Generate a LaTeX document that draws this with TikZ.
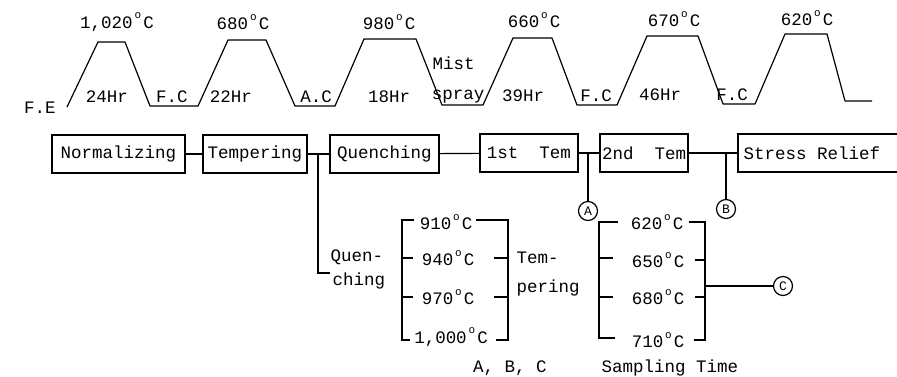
\documentclass[tikz,border=0pt]{standalone}
\usepackage{fontspec}
\setmonofont{Liberation Mono}
\newcommand\myDeg{\makebox[0.6em]{\raisebox{0.55em}{\fontsize{11}{11}\selectfont o}}}
\tikzset{
  lbl/.style={inner sep=0pt},
  procbox/.style={draw, minimum height=38pt, inner sep=0pt},
  circ/.style={draw, circle, inner sep=0pt, minimum size=19pt, font=\ttfamily\fontsize{13}{13}\selectfont},
}
\begin{document}
\begin{tikzpicture}[x=1pt,y=-1pt,line width=1.2pt,font=\ttfamily\fontsize{17.5}{20}\selectfont]
\useasboundingbox (0,0) rectangle (897,376);
% heat-treatment profile
\draw[line join=round] (67,107) -- (98,42) -- (125,42) -- (150,106) -- (198,106) -- (228,40) -- (266,40) -- (295,106)
  -- (335,106) -- (364,39) -- (416,39) -- (442,105) -- (483,105) -- (513,38) -- (552,38) -- (577,105)
  -- (617,105) -- (647,36) -- (698,36) -- (723,104) -- (755,104) -- (785,34) -- (827,34) -- (845,101) -- (872,101);
\node[lbl] (p1) at (117,22) {1,020\myDeg C};
\node[lbl] (p2) at (243,22) {680\myDeg C};
\node[lbl] (p3) at (389,22) {980\myDeg C};
\node[lbl] (p4) at (534,20) {660\myDeg C};
\node[lbl] (p5) at (674,19) {670\myDeg C};
\node[lbl] (p6) at (807,18) {620\myDeg C};
\node[lbl] (fe) at (40,108) {F.E};
\node[lbl] (h1) at (107,97) {24Hr};
\node[lbl] (c1) at (172,97) {F.C};
\node[lbl] (h2) at (231,97) {22Hr};
\node[lbl] (c2) at (316,97) {A.C};
\node[lbl] (h3) at (389,97) {18Hr};
\node[lbl,anchor=west] (mist) at (432,63) {Mist};
\node[lbl] (spray) at (458,97) {spray};
\node[lbl] (h4) at (523,96) {39Hr};
\node[lbl] (c3) at (596,96) {F.C};
\node[lbl] (h5) at (660,95) {46Hr};
\node[lbl] (c4) at (732,95) {F.C};
% process boxes
\node[procbox, minimum width=133pt] (norm) at (118.5,154) {Normalizing};
\node[procbox, minimum width=104pt] (temp) at (255,154) {Tempering};
\node[procbox, minimum width=109pt] (quen) at (384.5,154) {Quenching};
\node[procbox, minimum width=98pt] (first) at (529,153) {1st\ \ Tem};
\node[procbox, minimum width=88pt] (second) at (644,153) {2nd\ \ Tem};
\node[lbl, anchor=west, minimum height=38pt] (stress) at (743,153) {Stress Relief};
\draw (897,134) -- (738,134) -- (738,172) -- (897,172);
\draw (norm) -- (temp);
\draw (temp) -- (quen);
\draw (quen) -- (first);
\draw (first) -- (second);
\draw (second.east) -- (738,153);
% branches
\coordinate (jq) at (318,154);
\coordinate (qe) at (330,273);
\draw (jq) |- (qe);
\node[lbl, anchor=west] (quen1) at (330,257) {Quen-};
\node[lbl, anchor=west] (quen2) at (332,281) {ching};
\node[circ] (cA) at (588,211) {A};
\node[circ] (cB) at (726,209) {B};
\coordinate (ja) at (588,153);
\coordinate (jb) at (726,153);
\draw (ja) -- (cA);
\draw (jb) -- (cB);
% quenching temperatures
\node[lbl] (t910) at (446,222) {910\myDeg C};
\node[lbl] (t940) at (448,258) {940\myDeg C};
\node[lbl] (t970) at (448,297) {970\myDeg C};
\node[lbl] (t1000) at (451,337) {1,000\myDeg C};
\draw (414,220) -- (402,220) -- (402,340) -- (410,340);
\draw (402,258) -- (413,258);
\draw (402,297) -- (413,297);
\draw (476,220) -- (508,220) -- (508,340) -- (496,340);
\draw (494,258) -- (508,258);
\draw (494,297) -- (508,297);
\node[lbl, anchor=west] (tem1) at (516,258) {Tem-};
\node[lbl, anchor=west] (tem2) at (516,288) {pering};
% tempering temperatures
\node[lbl] (s620) at (657,222) {620\myDeg C};
\node[lbl] (s650) at (658,260) {650\myDeg C};
\node[lbl] (s680) at (658,297) {680\myDeg C};
\node[lbl] (s710) at (658,340) {710\myDeg C};
\draw (618,222) -- (599,222) -- (599,338) -- (615,338);
\draw (599,258) -- (613,258);
\draw (599,297) -- (613,297);
\draw (689,222) -- (705,222) -- (705,340) -- (694,340);
\draw (695,260) -- (705,260);
\draw (695,297) -- (705,297);
\coordinate (jc) at (705,286);
\node[circ] (cC) at (783,286) {C};
\draw (jc) -- (cC);
% captions
\node[lbl] (abc) at (510,368) {A, B, C};
\node[lbl] (samp) at (670,368) {Sampling Time};
\end{tikzpicture}
\end{document}
